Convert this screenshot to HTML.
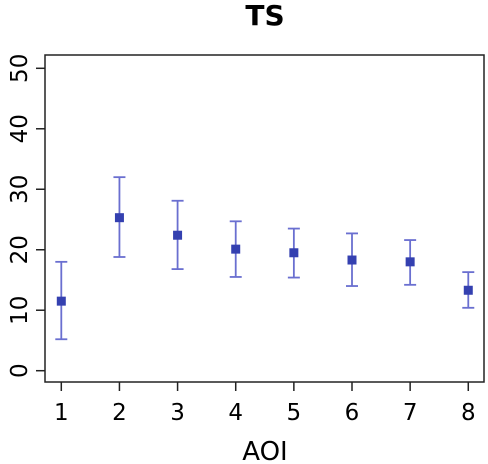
<!DOCTYPE html>
<html><head><meta charset="utf-8"><style>body{margin:0;background:#fff}svg{display:block;font-family:"DejaVu Sans","Liberation Sans",sans-serif}</style></head>
<body>
<svg id="c" width="488" height="464">
<text x="265" y="25" font-size="28" font-weight="bold" text-anchor="middle">TS</text>
<rect x="45" y="55" width="439" height="327" fill="none" stroke="#222" stroke-width="1.5"/>
<text x="265" y="460" font-size="26" text-anchor="middle">AOI</text>
<g id="g"></g>
</svg>
<script>
const categories=[1,2,3,4,5,6,7,8];
const means=[11.5,25.3,22.4,20.1,19.5,18.3,18.0,13.3];
const lows=[5.2,18.8,16.8,15.5,15.4,14.0,14.2,10.4];
const highs=[18.0,32.0,28.1,24.7,23.5,22.7,21.6,16.3];
const yTicks=[0,10,20,30,40,50];
const ns="http://www.w3.org/2000/svg",g=document.getElementById('g');
const X=v=>61.3+(v-1)*58.14, Y=v=>370.7-v*6.048;
function mk(t,a){const e=document.createElementNS(ns,t);for(const k in a)e.setAttribute(k,a[k]);g.appendChild(e);return e;}
yTicks.forEach(v=>{
 const l=mk('line',{x1:36,x2:45,y1:Y(v),y2:Y(v),stroke:'#222','stroke-width':1.5});
 
 
 const t=mk('text',{x:0,y:0,'font-size':23,'text-anchor':'middle',transform:`translate(27,${Y(v)}) rotate(-90)`});
 t.textContent=v;
 
 
});
categories.forEach((c,i)=>{
 const x=X(c);
 const l=mk('line',{x1:x,x2:x,y1:382,y2:391,stroke:'#222','stroke-width':1.5});
 
 
 const t=mk('text',{x:x,y:420,'font-size':23,'text-anchor':'middle'});
 t.textContent=c;
 
 
 const col='#6a6fd0';
 const v=mk('line',{x1:x,x2:x,y1:Y(lows[i]),y2:Y(highs[i]),stroke:col,'stroke-width':1.8});
 
 
 const ct=mk('line',{x1:x-6,x2:x+6,y1:Y(highs[i]),y2:Y(highs[i]),stroke:col,'stroke-width':1.8});
 
 
 const cb=mk('line',{x1:x-6,x2:x+6,y1:Y(lows[i]),y2:Y(lows[i]),stroke:col,'stroke-width':1.8});
 
 
 const p=mk('rect',{x:x-4.5,y:Y(means[i])-4.5,width:9,height:9,fill:'#3440b0'});
 
 
});
</script>
</body></html>
